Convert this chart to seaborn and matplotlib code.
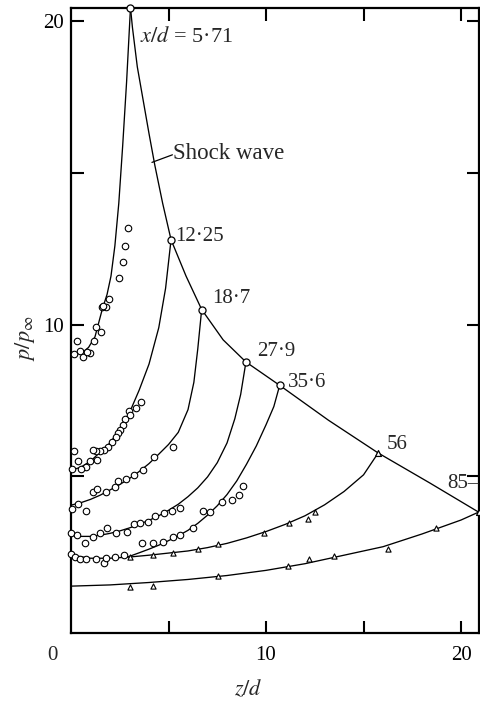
import numpy as np
import pandas as pd
import seaborn as sns
import matplotlib
matplotlib.use("Agg")
import matplotlib.pyplot as plt

# ---- data -----------------------------------------------------------------
# shock-wave envelope and the station points on it
shock_z = [3.05, 3.15, 3.4, 3.7, 4.0, 4.3, 4.7, 5.13, 5.9, 6.7, 7.8, 8.97, 10.7, 13.2, 15.75, 18.4, 20.9]
shock_p = [20.45, 19.8, 18.5, 17.4, 16.3, 15.25, 14.0, 12.8, 11.6, 10.5, 9.5, 8.77, 8.0, 6.85, 5.77, 4.78, 3.82]

station_labels = ["x/d = 5·71", "12·25", "18·7", "27·9", "35·6", "56", "85"]
station_z = [3.05, 5.13, 6.7, 8.97, 10.7, 15.75, 20.9]
station_p = [20.45, 12.8, 10.5, 8.77, 8.0, 5.77, 3.82]

# faired pressure distributions along the wall, one per station
c571_z = [0.56, 0.9, 1.23, 1.6, 1.85, 2.05, 2.25, 2.45, 2.65, 2.85, 3.05]
c571_p = [9.07, 9.25, 9.6, 10.5, 11.0, 11.6, 12.6, 14.0, 15.9, 18.0, 20.45]

c1225_z = [0.0, 0.5, 1.0, 1.5, 2.0, 2.5, 3.0, 3.5, 4.0, 4.5, 4.85, 5.13]
c1225_p = [5.2, 5.3, 5.5, 5.8, 6.1, 6.55, 7.1, 7.85, 8.7, 9.9, 11.2, 12.8]

c187_z = [0.0, 0.5, 1.0, 1.5, 2.0, 2.5, 3.0, 3.5, 4.0, 4.5, 5.0, 5.5, 6.0, 6.3, 6.5, 6.7]
c187_p = [4.05, 4.13, 4.24, 4.38, 4.55, 4.73, 4.93, 5.16, 5.42, 5.73, 6.05, 6.45, 7.2, 8.1, 9.2, 10.5]

c279_z = [0.0, 0.5, 1.0, 1.5, 2.0, 2.5, 3.0, 3.5, 4.0, 4.5, 5.0, 5.5, 6.0, 6.5, 7.0, 7.5, 8.0, 8.4, 8.7, 8.97]
c279_p = [3.07, 3.02, 3.02, 3.06, 3.12, 3.2, 3.3, 3.42, 3.55, 3.7, 3.88, 4.08, 4.33, 4.62, 4.98, 5.45, 6.1, 6.9, 7.7, 8.77]

c356_z = [2.9, 3.5, 4.0, 4.5, 5.0, 5.5, 6.0, 6.5, 7.0, 7.5, 8.0, 8.5, 9.0, 9.5, 10.0, 10.4, 10.7]
c356_p = [2.34, 2.48, 2.6, 2.73, 2.88, 3.04, 3.22, 3.45, 3.72, 4.03, 4.4, 4.85, 5.4, 6.0, 6.7, 7.3, 8.0]

c56_z = [0.0, 1.0, 2.0, 3.0, 4.0, 5.0, 6.0, 7.0, 8.0, 9.0, 10.0, 11.0, 12.0, 13.0, 14.0, 15.0, 15.75]
c56_p = [2.4, 2.3, 2.3, 2.34, 2.4, 2.47, 2.54, 2.65, 2.79, 2.97, 3.18, 3.42, 3.7, 4.06, 4.5, 5.05, 5.77]

c85_z = [0.0, 2.0, 4.0, 6.0, 8.0, 10.0, 12.0, 14.0, 16.0, 18.0, 20.0, 20.9]
c85_p = [1.38, 1.42, 1.5, 1.6, 1.73, 1.9, 2.12, 2.4, 2.68, 3.1, 3.56, 3.82]

# measured wall pressures (circles)
m571_z = [2.9, 2.77, 2.65, 2.48, 1.93, 1.8, 1.57, 1.65, 1.28, 1.52, 1.2, 0.29, 0.46, 0.15, 0.63, 0.97, 0.8]
m571_p = [13.2, 12.6, 12.05, 11.54, 10.85, 10.57, 10.57, 10.6, 9.92, 9.76, 9.45, 9.46, 9.14, 9.02, 8.95, 9.08, 9.1]

m1225_z = [3.57, 3.33, 2.97, 3.03, 2.77, 2.65, 2.51, 2.43, 2.31, 2.09, 1.91, 1.69, 1.49, 1.28, 1.11,
           1.35, 0.97, 0.75, 0.5, 0.03, 0.37, 0.15]
m1225_p = [7.46, 7.24, 7.17, 7.02, 6.88, 6.69, 6.53, 6.42, 6.29, 6.14, 5.98, 5.87, 5.85, 5.85, 5.87,
           5.54, 5.52, 5.3, 5.23, 5.23, 5.5, 5.85]

m187_z = [0.03, 0.34, 0.77, 1.11, 1.32, 1.79, 2.26, 2.43, 2.82, 3.25, 3.71, 4.28, 5.25]
m187_p = [3.91, 4.08, 3.86, 4.47, 4.57, 4.47, 4.66, 4.86, 4.91, 5.04, 5.21, 5.65, 5.96]

m279_z = [0.0, 0.29, 0.72, 1.14, 1.49, 1.83, 2.31, 2.86, 3.23, 3.54, 3.97, 4.31, 4.77, 5.16, 5.59]
m279_p = [3.12, 3.07, 2.79, 3.01, 3.12, 3.31, 3.14, 3.18, 3.43, 3.47, 3.5, 3.69, 3.8, 3.87, 3.95]

m356_z = [3.62, 4.22, 4.73, 5.25, 5.59, 6.24, 6.75, 7.13, 7.73, 8.24, 8.63, 8.8]
m356_p = [2.79, 2.79, 2.85, 3.01, 3.07, 3.31, 3.87, 3.81, 4.17, 4.22, 4.38, 4.68]

m56c_z = [0.0, 0.2, 0.46, 0.77, 1.28, 1.71, 1.79, 2.26, 2.73]
m56c_p = [2.43, 2.35, 2.27, 2.28, 2.26, 2.13, 2.3, 2.35, 2.41]

# measured wall pressures (triangles)
m56t_z = [3.03, 4.19, 5.21, 6.53, 7.55, 9.9, 11.2, 12.17, 12.5]
m56t_p = [2.33, 2.41, 2.48, 2.59, 2.76, 3.14, 3.47, 3.58, 3.84]

m85_z = [3.03, 4.22, 7.52, 11.15, 12.2, 13.5, 16.24, 18.7]
m85_p = [1.36, 1.39, 1.71, 2.04, 2.27, 2.37, 2.59, 3.29]

x_ticks = [5, 10, 15, 20]
x_ticklabels = ["", "10", "", "20"]
y_ticks = [5, 10, 15, 20]
y_ticklabels = ["", "10", "", "20"]

# ---- style ----------------------------------------------------------------
sns.set_theme(style="ticks")
plt.rcParams["font.family"] = ["Liberation Serif", "DejaVu Serif"]
plt.rcParams["mathtext.fontset"] = "stix"
plt.rcParams["axes.linewidth"] = 1.6

fig = plt.figure(figsize=(4.8, 7.06), dpi=100)
ax = fig.add_axes([71 / 480, 1 - 633 / 706, (479 - 71) / 480, (633 - 8) / 706])

line_kw = dict(color="black", linewidth=0.95, sort=False, estimator=None, ax=ax, legend=False)
curves = [
    (shock_z, shock_p), (c571_z, c571_p), (c1225_z, c1225_p), (c187_z, c187_p),
    (c279_z, c279_p), (c356_z, c356_p), (c56_z, c56_p), (c85_z, c85_p),
]
for cz, cp in curves:
    sns.lineplot(x=cz, y=cp, **line_kw)

circ_kw = dict(marker="o", s=22, facecolor="white", edgecolor="black", linewidth=0.8,
               ax=ax, legend=False, zorder=3)
for mz, mp in [(m571_z, m571_p), (m1225_z, m1225_p), (m187_z, m187_p),
               (m279_z, m279_p), (m356_z, m356_p), (m56c_z, m56c_p)]:
    sns.scatterplot(x=mz, y=mp, **circ_kw)

tri_kw = dict(marker="^", s=14, facecolor="white", edgecolor="black", linewidth=0.8,
              ax=ax, legend=False, zorder=3)
for mz, mp in [(m56t_z, m56t_p), (m85_z, m85_p)]:
    sns.scatterplot(x=mz, y=mp, **tri_kw)

# station markers on the shock
sns.scatterplot(x=station_z[:5], y=station_p[:5], marker="o", s=26, facecolor="white",
                edgecolor="black", linewidth=0.9, ax=ax, legend=False, zorder=4)
sns.scatterplot(x=station_z[5:], y=station_p[5:], marker="^", s=18, facecolor="white",
                edgecolor="black", linewidth=0.9, ax=ax, legend=False, zorder=4)
for coll in ax.collections:
    coll.set_clip_on(False)

ax.set_xlim(0, 20.92)
ax.set_ylim(-0.165, 20.44)

ax.set_xticks(x_ticks)
ax.set_xticklabels(x_ticklabels)
ax.set_yticks(y_ticks)
ax.set_yticklabels(y_ticklabels)
ax.tick_params(direction="in", length=9, width=1.5, top=True, right=True,
               labelsize=15, colors="black")
ax.tick_params(axis="x", pad=9)
ax.tick_params(axis="y", pad=5)
for s in ax.spines.values():
    s.set_visible(True)
    s.set_color("black")

fig.text(52 / 480, 1 - 655 / 706, "0", ha="center", va="center", fontsize=15)

ax.set_xlabel(r"$z/d$", fontsize=16)
ax.xaxis.set_label_coords((248 - 71) / 408, (633 - 690) / 625)
ax.xaxis.label.set_va("center")
ax.set_ylabel(r"$p/p_{\infty}$", fontsize=16)
ax.yaxis.set_label_coords((25 - 71) / 408, (633 - 338) / 625)
ax.yaxis.label.set_va("center")

# station annotations
fs = 15
ax.text(3.55, 19.5, r"$x/d$ = 5·71", fontsize=16, ha="left", va="center")
ax.text(5.35, 12.9, station_labels[1], fontsize=fs, ha="left", va="center")
ax.text(7.25, 10.85, station_labels[2], fontsize=fs, ha="left", va="center")
ax.text(9.55, 9.1, station_labels[3], fontsize=fs, ha="left", va="center")
ax.text(11.1, 8.1, station_labels[4], fontsize=fs, ha="left", va="center")
ax.text(16.2, 6.04, station_labels[5], fontsize=fs, ha="left", va="center")
ax.text(19.3, 4.75, "85–", fontsize=fs, ha="left", va="center")

# leader to the shock envelope
ax.plot([4.15, 5.2], [15.35, 15.6], color="black", linewidth=0.9)
ax.text(5.25, 15.65, "Shock wave", fontsize=16.5, ha="left", va="center")

fig.savefig("out.png", dpi=100, facecolor="white")
